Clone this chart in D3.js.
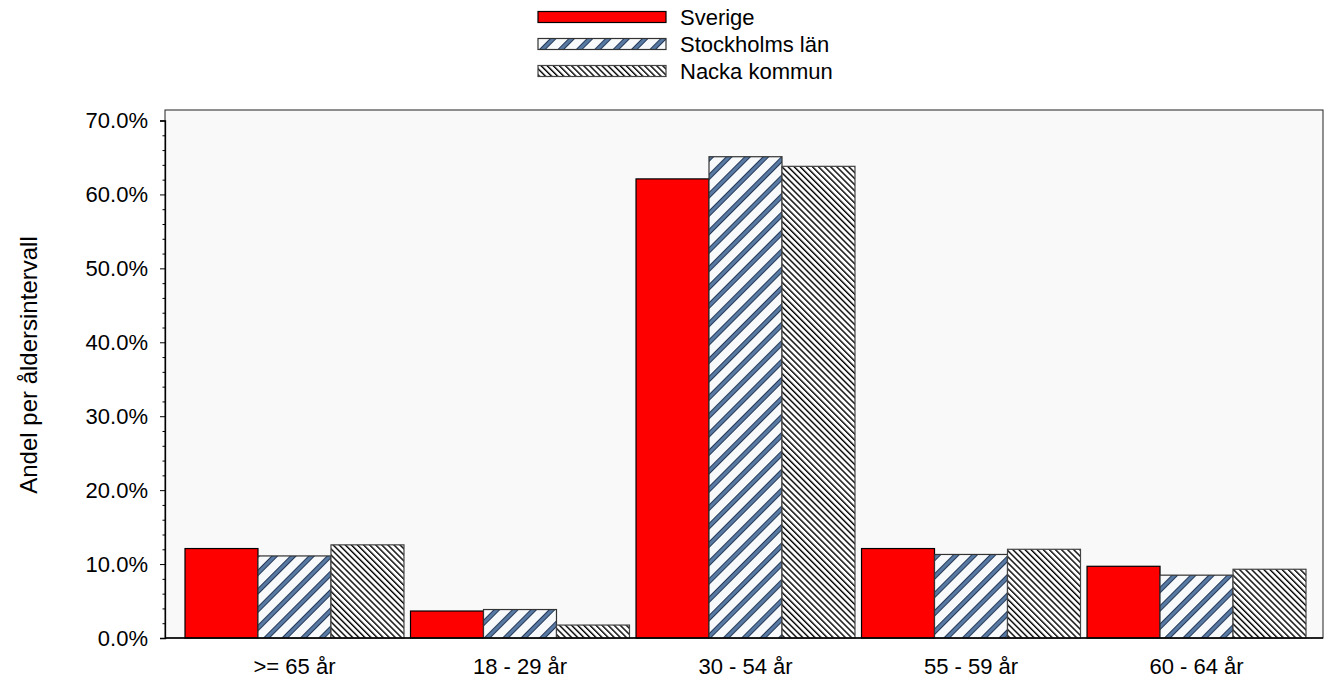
<!DOCTYPE html>
<html><head><meta charset="utf-8">
<script src="https://cdn.jsdelivr.net/npm/d3@7"></script>
<style>
html,body{margin:0;padding:0;background:#fff;}
text{font-family:"Liberation Sans",Arial,sans-serif;fill:#000;}
</style></head>
<body>
<svg id="chart" width="1329" height="691"></svg>
<script>
const categories = [">= 65 år", "18 - 29 år", "30 - 54 år", "55 - 59 år", "60 - 64 år"];
const seriesNames = ["Sverige", "Stockholms län", "Nacka kommun"];
const sverige = [12.1, 3.65, 62.1, 12.1, 9.7];
const stockholm = [11.1, 3.85, 65.1, 11.3, 8.5];
const nacka = [12.6, 1.75, 63.8, 12.0, 9.3];
const yTicks = [0, 10, 20, 30, 40, 50, 60, 70];
const yTitle = "Andel per åldersintervall";

const svg = d3.select("#chart");
const plot = {left: 165, right: 1323, top: 110, bottom: 638};
const FONT = "Liberation Sans, Arial, sans-serif";

const defs = svg.append("defs");
const p1 = defs.append("pattern").attr("id", "pStock").attr("patternUnits", "userSpaceOnUse")
  .attr("width", 13).attr("height", 13).attr("patternTransform", "rotate(45)");
p1.append("rect").attr("width", 13).attr("height", 13).attr("fill", "#f8f9fb");
p1.append("rect").attr("x", 0).attr("y", 0).attr("width", 5).attr("height", 13).attr("fill", "#587aa2");
p1.append("line").attr("x1", 0.5).attr("x2", 0.5).attr("y1", 0).attr("y2", 13).attr("stroke", "#24395a").attr("stroke-width", 1);
p1.append("line").attr("x1", 4.5).attr("x2", 4.5).attr("y1", 0).attr("y2", 13).attr("stroke", "#24395a").attr("stroke-width", 1);
const p2 = defs.append("pattern").attr("id", "pNacka").attr("patternUnits", "userSpaceOnUse")
  .attr("width", 4.3).attr("height", 4.3).attr("patternTransform", "rotate(-45)");
p2.append("rect").attr("width", 4.3).attr("height", 4.3).attr("fill", "#ffffff");
p2.append("rect").attr("x", 0).attr("y", 0).attr("width", 1.4).attr("height", 4.3).attr("fill", "#000");

const fills = ["#ff0000", "url(#pStock)", "url(#pNacka)"];
const strokes = ["#000", "#333", "#444"];
const seriesData = [sverige, stockholm, nacka];

svg.append("rect").attr("x", plot.left).attr("y", plot.top)
  .attr("width", plot.right - plot.left).attr("height", plot.bottom - plot.top)
  .attr("fill", "#f9f9f9").attr("stroke", "#222").attr("stroke-width", 1);

const y = d3.scaleLinear().domain([0, 70]).range([plot.bottom, 120.5]);
const x0 = d3.scaleBand().domain(categories).range([185, 1306]).paddingInner(0.029).paddingOuter(0);
const x1 = d3.scaleBand().domain(seriesNames).range([0, x0.bandwidth()]).padding(0);

categories.forEach((c, i) => {
  seriesNames.forEach((s, j) => {
    const v = seriesData[j][i];
    svg.append("rect")
      .attr("x", x0(c) + x1(s)).attr("y", y(v))
      .attr("width", x1.bandwidth()).attr("height", y(0) - y(v))
      .attr("fill", fills[j]).attr("stroke", strokes[j]).attr("stroke-width", 1.2);
  });
});

const yAxis = d3.axisLeft(y).tickValues(yTicks).tickFormat(d => d.toFixed(1) + "%").tickSize(5).tickPadding(12);
const gy = svg.append("g").attr("transform", `translate(${plot.left},0)`).call(yAxis)
  .attr("font-size", 22).attr("font-family", FONT);
gy.select(".domain").attr("stroke", "#000").attr("stroke-width", 1.3);
gy.selectAll("text").attr("fill", "#000");
const minor = d3.range(0, 70, 2).filter(d => d % 10 !== 0);
svg.append("g").attr("transform", `translate(${plot.left},0)`)
  .call(d3.axisLeft(y).tickValues(minor).tickSize(2.5).tickFormat(""))
  .select(".domain").remove();

const xAxis = d3.axisBottom(x0).tickSize(0).tickPadding(20);
const gx = svg.append("g").attr("transform", `translate(0,${plot.bottom})`).call(xAxis)
  .attr("font-size", 22).attr("font-family", FONT);
gx.select(".domain").attr("d", `M${plot.left},0H${plot.right}`).attr("stroke", "#000").attr("stroke-width", 1.5);
gx.selectAll("text").attr("fill", "#000");

svg.append("text").attr("transform", `translate(37,365) rotate(-90)`)
  .attr("text-anchor", "middle").style("font-size", "24px").text(yTitle);

const legY = [17, 44, 71];
seriesNames.forEach((s, j) => {
  svg.append("rect").attr("x", 538).attr("y", legY[j] - 5.5).attr("width", 128).attr("height", 11)
    .attr("fill", fills[j]).attr("stroke", strokes[j]).attr("stroke-width", 1.2);
  svg.append("text").attr("x", 680).attr("y", legY[j]).attr("dy", "0.35em")
    .style("font-size", "22px").text(s);
});
</script>
</body></html>
